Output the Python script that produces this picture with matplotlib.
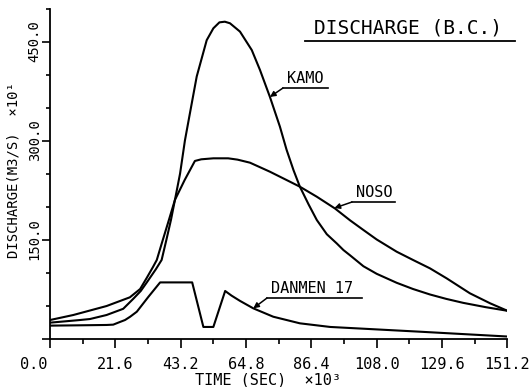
import numpy as np
import matplotlib
matplotlib.use('Agg')
import matplotlib.pyplot as plt
from matplotlib.ticker import FixedLocator, MultipleLocator
import matplotlib.transforms as mtransforms

# time in 10^3 s, discharge in 10 m3/s
kamo_t = [0, 5, 9.9, 13.2, 18.7, 24.2, 27.5, 30, 32, 35, 36.9, 38.5, 40, 41.3, 43,
          44.6, 46, 48.5, 51.8, 54, 56, 57.8, 59.5, 62.8, 66.7, 69.4, 72.7, 76,
          78.2, 80.5, 82.6, 85.5, 88.2, 91.5, 94.8, 97, 99.2, 103.6, 108, 114.6,
          120, 125.6, 131, 136.6, 144, 151.2]
kamo_q = [24, 26, 28, 29.5, 35.6, 45, 60, 72, 85, 105, 119, 150, 180, 210, 250,
          300, 335, 397, 452, 470, 479, 480, 477.6, 465, 437, 407, 366, 321,
          286, 255, 230, 203, 179.5, 158, 144, 134, 126, 109.5, 98, 84.4,
          75, 66.7, 60, 54, 47.5, 42]

noso_t = [0, 7.7, 18.7, 26.4, 29.8, 32, 34, 35.3, 37, 39, 41.3, 44.5, 47.9, 50,
          54, 58.9, 62, 66.1, 72.7, 79.3, 82.6, 88.2, 94.2, 99.2, 103.6, 108,
          114.6, 120, 125.6, 131.1, 138.8, 145.5, 151.2]
noso_q = [28, 35.6, 49.2, 62.4, 75, 92, 108, 119, 145, 175, 210, 240, 269, 271.5,
          273, 273, 271, 266.4, 252.7, 237.6, 230, 214.8, 197, 179, 164.4, 150,
          131.5, 119, 106.3, 91.2, 68.5, 53.3, 42]

danmen_t = [0, 10, 18.7, 20.9, 23.1, 24.8, 26.5, 28.7, 32.5, 36.4, 47.0, 50.7,
            54.0, 57.9, 60, 62.8, 67.2, 73.8, 82.6, 92.6, 122.3, 151.2]
danmen_q = [19.5, 20, 20.5, 21, 25, 28, 33, 40.6, 63, 85, 85, 17.5,
            17.5, 72, 65, 57, 45.7, 33, 23, 17.5, 10.3, 3]

x_ticks = [0.0, 21.6, 43.2, 64.8, 86.4, 108.0, 129.6, 151.2]
x_labels = ['0.0', '21.6', '43.2', '64.8', '86.4', '108.0', '129.6', '151.2']
y_ticks = [0, 150, 300, 450]
y_labels = ['', '150.0', '300.0', '450.0']

W, H = 531, 387
fig = plt.figure(figsize=(W / 100, H / 100), dpi=100)
ax = fig.add_axes([50 / W, 1 - 338.5 / H, (507.4 - 50) / W, (338.5 - 8.5) / H])

FONT = 'DejaVu Sans Mono'
LW = 1.5

ax.plot(kamo_t, kamo_q, color='black', lw=LW)
ax.plot(noso_t, noso_q, color='black', lw=LW)
ax.plot(danmen_t, danmen_q, color='black', lw=LW)

ax.set_xlim(0, 151.2)
ax.set_ylim(0, 500)
for s in ['top', 'right']:
    ax.spines[s].set_visible(False)
for s in ['left', 'bottom']:
    ax.spines[s].set_linewidth(1.3)

ax.xaxis.set_major_locator(FixedLocator(x_ticks))
ax.xaxis.set_minor_locator(MultipleLocator(10.8))
ax.yaxis.set_major_locator(FixedLocator(y_ticks))
ax.yaxis.set_minor_locator(MultipleLocator(50))
ax.set_xticklabels(x_labels, fontfamily=FONT, fontsize=11)
ax.set_yticklabels(y_labels, fontfamily=FONT, fontsize=10, rotation=90, va='center')
ax.tick_params(axis='x', which='major', direction='out', length=6.5, width=1.2, pad=7)
ax.tick_params(axis='x', which='minor', direction='out', length=3.5, width=1.2)
ax.tick_params(axis='y', which='major', direction='out', length=5.5, width=1.2, pad=0.5)
ax.tick_params(axis='y', which='minor', direction='out', length=3, width=1.2)

# shift "0.0" label to the left as in the original
lbl0 = ax.get_xticklabels()[0]
lbl0.set_transform(lbl0.get_transform() + mtransforms.ScaledTranslation(-16 / 100, 0, fig.dpi_scale_trans))

def fx(px):
    return px / W

def fy(py):
    return 1 - py / H

fig.text(fx(268), fy(380), 'TIME (SEC)  \u00d710\u00b3', fontfamily=FONT, fontsize=11,
         ha='center', va='center')
fig.text(fx(14), fy(170), 'DISCHARGE(M3/S)  \u00d710\u00b9', fontfamily=FONT, fontsize=10,
         ha='center', va='center', rotation=90)

# title with underline
fig.text(fx(408), fy(38), 'DISCHARGE (B.C.)', fontfamily=FONT, fontsize=14,
         ha='center', va='bottom')
fig.add_artist(plt.Line2D([fx(305), fx(515)], [fy(41), fy(41)], color='black', lw=1.3))

def label(text, x_left, x_right, y_line, t_tip, t_arr, q_arr):
    q_tip = float(np.interp(t_tip, t_arr, q_arr))
    fig.text(fx(x_left + 4), fy(y_line - 2), text, fontfamily=FONT, fontsize=11,
             ha='left', va='bottom')
    fig.add_artist(plt.Line2D([fx(x_left), fx(x_right)], [fy(y_line), fy(y_line)],
                              color='black', lw=1.2))
    ax.annotate('', xy=(t_tip, q_tip), xycoords='data',
                xytext=(fx(x_left), fy(y_line)), textcoords='figure fraction',
                arrowprops=dict(arrowstyle='-|>', lw=1.1, color='black',
                                mutation_scale=8, shrinkA=0, shrinkB=0))

label('KAMO', 283, 328, 88, 72.7, kamo_t, kamo_q)
label('NOSO', 352, 395, 202, 94.0, noso_t, noso_q)
label('DANMEN 17', 267, 362, 298, 67.2, danmen_t, danmen_q)

fig.savefig('out.png', dpi=100)
